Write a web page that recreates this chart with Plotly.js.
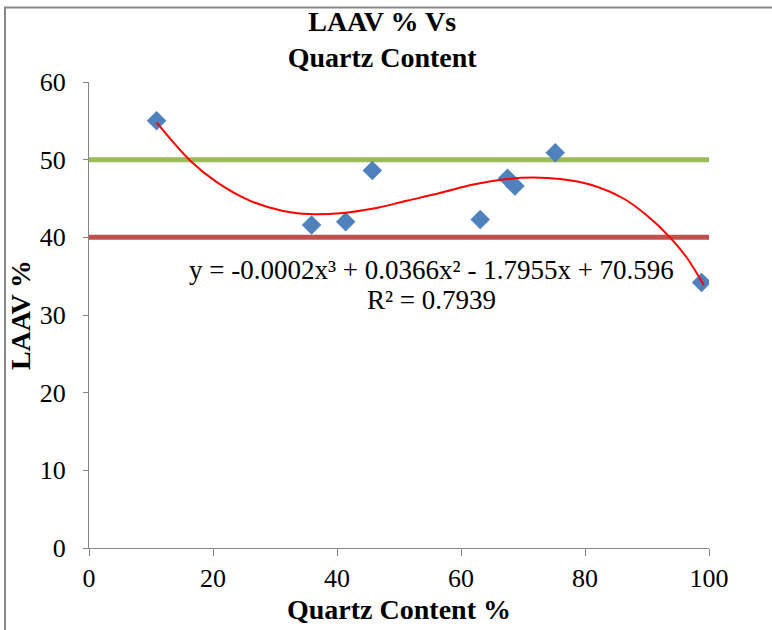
<!DOCTYPE html>
<html>
<head>
<meta charset="utf-8">
<script src="https://cdn.plot.ly/plotly-3.0.1.min.js"></script>
<style>
html, body { margin: 0; padding: 0; background: #fff; }
#chart { width: 772px; height: 630px; }
</style>
</head>
<body>
<div id="chart"></div>
<script>
// Measured data points (Quartz content %, LAAV %)
var quartz = [10.9, 35.9, 41.4, 45.7, 63.1, 67.5, 68.7, 75.2, 98.8];
var laav   = [55.0, 41.6, 42.0, 48.6, 42.3, 47.6, 46.6, 50.9, 34.2];

// Polynomial trend line
var trendX = [10.9, 16.3, 20.6, 26.0, 31.3, 35.6, 40.5, 45.9, 51.2, 56.6, 62.0, 67.4, 71.7, 76.0, 80.8, 86.2, 90.0, 93.7, 96.4, 99.2];
var trendY = [54.8, 49.9, 47.1, 44.7, 43.4, 43.0, 43.1, 43.7, 44.7, 45.7, 46.8, 47.5, 47.7, 47.5, 46.8, 45.0, 42.8, 40.0, 37.4, 33.8];

// Reference limit lines
var limitX = [0, 100];
var upperLimit = [50, 50];
var lowerLimit = [40, 40];

var xTicks = [0, 20, 40, 60, 80, 100];
var yTicks = [0, 10, 20, 30, 40, 50, 60];

var titleText = "LAAV % Vs<br>Quartz Content";
var xTitle = "Quartz Content %";
var yTitle = "LAAV %";
var eqLine1 = "y = -0.0002x³ + 0.0366x² - 1.7955x + 70.596";
var eqLine2 = "R² = 0.7939";

var serif = "Liberation Serif, Times New Roman, serif";

var traces = [
  { x: limitX, y: upperLimit, mode: "lines", line: { color: "#9BBB59", width: 5 }, hoverinfo: "skip", showlegend: false },
  { x: limitX, y: lowerLimit, mode: "lines", line: { color: "#C0504D", width: 5 }, hoverinfo: "skip", showlegend: false },
  { x: quartz, y: laav, mode: "markers", marker: { symbol: "diamond", size: 15, color: "#4F81BD", line: { width: 0 } }, showlegend: false },
  { x: trendX, y: trendY, mode: "lines", line: { color: "#FF0000", width: 2, shape: "spline", smoothing: 1 }, showlegend: false }
];

var layout = {
  width: 772, height: 630,
  margin: { l: 89, r: 63, t: 82, b: 82 },
  paper_bgcolor: "#fff", plot_bgcolor: "#fff",
  showlegend: false,
  font: { family: serif, size: 26, color: "#000" },
  title: { text: titleText, font: { family: serif, size: 28, color: "#000", weight: "bold" }, x: 0.495, xanchor: "center", y: 0.951, yanchor: "middle" },
  xaxis: {
    range: [0, 100], tickvals: xTicks, ticktext: xTicks.map(String),
    showgrid: false, zeroline: false, showline: true, linecolor: "#868686", linewidth: 1,
    ticks: "outside", ticklen: 7, tickcolor: "#868686",
    tickfont: { family: serif, size: 26 },
    title: { text: xTitle, font: { family: serif, size: 28, weight: "bold" }, standoff: 7 }
  },
  yaxis: {
    range: [0, 60], tickvals: yTicks, ticktext: yTicks.map(String),
    showgrid: false, zeroline: false, showline: true, linecolor: "#868686", linewidth: 1,
    ticks: "outside", ticklen: 5, tickcolor: "#868686", ticklabelstandoff: 12,
    tickfont: { family: serif, size: 26 },
    title: { text: yTitle, font: { family: serif, size: 28, weight: "bold" }, standoff: 0 }
  },
  annotations: [
    { xref: "x", yref: "y", x: 55.3, y: 35.8, text: eqLine1, showarrow: false, font: { family: serif, size: 27 }, xanchor: "center", yanchor: "middle" },
    { xref: "x", yref: "y", x: 55.3, y: 31.9, text: eqLine2, showarrow: false, font: { family: serif, size: 27 }, xanchor: "center", yanchor: "middle" }
  ],
  shapes: [
    { type: "rect", xref: "paper", yref: "paper", x0: -0.1355, x1: 1.6, y0: -0.4, y1: 1.16, line: { color: "#888888", width: 2 }, fillcolor: "rgba(0,0,0,0)", layer: "below" }
  ]
};

Plotly.newPlot("chart", traces, layout, { displayModeBar: false, staticPlot: true });
</script>
</body>
</html>
